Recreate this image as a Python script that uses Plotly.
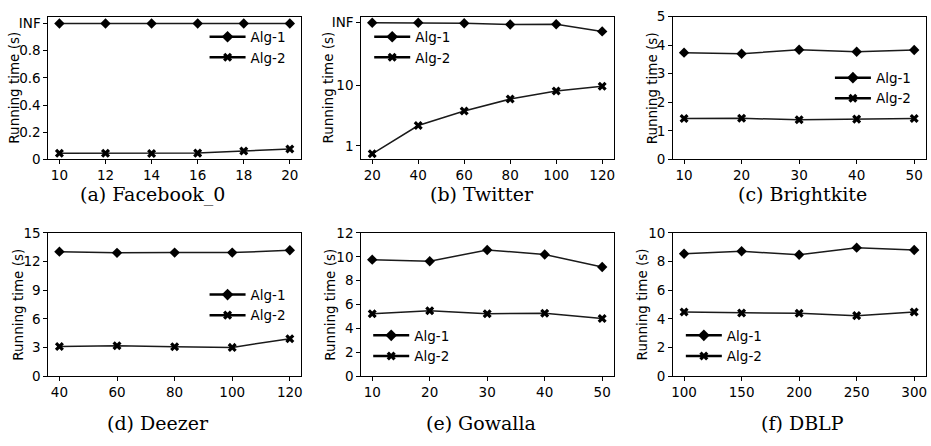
import plotly.graph_objects as go
from plotly.subplots import make_subplots

# ---------------- data ----------------
captions = ["(a) Facebook_0", "(b) Twitter", "(c) Brightkite",
            "(d) Deezer", "(e) Gowalla", "(f) DBLP"]

x_a = [10, 12, 14, 16, 18, 20]
alg1_a = [1.0, 1.0, 1.0, 1.0, 1.0, 1.0]          # INF
alg2_a = [0.045, 0.045, 0.043, 0.046, 0.062, 0.077]

x_b = [20, 40, 60, 80, 100, 120]
alg1_b = [107, 107, 105, 100, 101, 77]            # INF ~ 107
alg2_b = [0.74, 2.16, 3.74, 5.9, 8.0, 9.6]

x_c = [10, 20, 30, 40, 50]
alg1_c = [3.74, 3.70, 3.84, 3.77, 3.83]
alg2_c = [1.43, 1.44, 1.385, 1.41, 1.43]

x_d = [40, 60, 80, 100, 120]
alg1_d = [13.04, 12.91, 12.94, 12.94, 13.18]
alg2_d = [3.10, 3.17, 3.07, 3.00, 3.91]

x_e = [10, 20, 30, 40, 50]
alg1_e = [9.76, 9.63, 10.57, 10.19, 9.14]
alg2_e = [5.23, 5.47, 5.23, 5.26, 4.83]

x_f = [100, 150, 200, 250, 300]
alg1_f = [8.54, 8.72, 8.47, 8.97, 8.81]
alg2_f = [4.47, 4.40, 4.38, 4.22, 4.47]

yticks_a = [0, 0.2, 0.4, 0.6, 0.8, 1.0]
yticklabels_a = ["0", "0.2", "0.4", "0.6", "0.8", "INF"]
yticks_b = [1, 10, 107]
yticklabels_b = ["1", "10", "INF"]

series = [
    (x_a, alg1_a, alg2_a), (x_b, alg1_b, alg2_b), (x_c, alg1_c, alg2_c),
    (x_d, alg1_d, alg2_d), (x_e, alg1_e, alg2_e), (x_f, alg1_f, alg2_f),
]

# ---------------- layout geometry (pixels) ----------------
W, H = 931, 446
cols_px = [(47, 301), (360.5, 614), (673, 926.7)]
rows_px = [(9, 157), (233.3, 381.7)]

xranges = [[9.5, 20.5], [15, 125], [8, 52], [36, 124], [8, 52], [90, 310]]
xdticks = [2, 20, 10, 20, 10, 50]
yranges = [[0, 1.05], [-0.223, 2.129], [0, 5], [0, 15], [0, 12], [0, 10]]
ydticks = [None, None, 1, 3, 2, 2]

# legend placement: (x of text start px, y of first row px)
legend_pos = [(250, 29.3), (415, 29.3), (876.7, 71.7), (250, 296.7), (414, 339), (727.3, 339)]
ytitle_x = [12.7, 327.3, 652.7, 17.3, 330, 643.3]
caption_xy = [(152, 193), (482, 193), (803, 193), (157, 430), (481, 430), (803, 430)]

TICKFONT = dict(family="DejaVu Sans", size=13.5, color="black")
LINE = "#1a1a1a"

fig = make_subplots(rows=2, cols=3)

for i, (xs, y1, y2) in enumerate(series):
    r, c = divmod(i, 3)
    leg = "legend" if i == 0 else f"legend{i+1}"
    fig.add_trace(go.Scatter(x=xs, y=y1, mode="lines+markers", name="Alg-1",
                             line=dict(color=LINE, width=1.5),
                             marker=dict(symbol="diamond", size=8, color="black"),
                             showlegend=False), row=r + 1, col=c + 1)
    fig.add_trace(go.Scatter(x=xs, y=y2, mode="lines+markers", name="Alg-2",
                             line=dict(color=LINE, width=1.5),
                             marker=dict(symbol="x", size=8, color="black", line=dict(width=0)),
                             showlegend=False), row=r + 1, col=c + 1)
    # legend-only entries (thicker, like the reference legend)
    fig.add_trace(go.Scatter(x=[None], y=[None], mode="lines+markers", name="Alg-1",
                             line=dict(color="black", width=2.5),
                             marker=dict(symbol="diamond", size=9, color="black"),
                             legend=leg), row=r + 1, col=c + 1)
    fig.add_trace(go.Scatter(x=[None], y=[None], mode="lines+markers", name="Alg-2",
                             line=dict(color="black", width=2.5),
                             marker=dict(symbol="x", size=8, color="black", line=dict(width=0)),
                             legend=leg), row=r + 1, col=c + 1)

    x0, x1 = cols_px[c]
    t, b = rows_px[r]
    xa = dict(domain=[x0 / W, x1 / W], range=xranges[i], dtick=xdticks[i], tick0=0,
              showgrid=False, zeroline=False, showline=True, linecolor="black", linewidth=1,
              mirror=True, ticks="outside", ticklen=3.5, tickwidth=0.8, tickcolor="black",
              tickfont=TICKFONT)
    ya = dict(domain=[1 - b / H, 1 - t / H], range=yranges[i],
              showgrid=False, zeroline=False, showline=True, linecolor="black", linewidth=1,
              mirror=True, ticks="outside", ticklen=3.5, tickwidth=0.8, tickcolor="black",
              tickfont=TICKFONT)
    if i == 0:
        ya.update(tickmode="array", tickvals=yticks_a, ticktext=yticklabels_a)
    elif i == 1:
        ya.update(type="log", tickmode="array", tickvals=yticks_b, ticktext=yticklabels_b)
    else:
        ya.update(dtick=ydticks[i], tick0=0)
    fig.update_xaxes(xa, row=r + 1, col=c + 1)
    fig.update_yaxes(ya, row=r + 1, col=c + 1)

    # legend
    lx, ly = legend_pos[i]
    fig.update_layout({leg: dict(x=(lx - 46) / W, y=1 - (ly - 15.3) / H, xanchor="left", yanchor="top",
                                 bgcolor="rgba(0,0,0,0)", borderwidth=0, itemwidth=36,
                                 font=dict(family="DejaVu Sans", size=13.5, color="black"),
                                 tracegroupgap=0)})

    # y title
    fig.add_annotation(text="Running time (s)", textangle=-90, showarrow=False,
                       xref="paper", yref="paper", x=ytitle_x[i] / W, y=1 - (t + b) / 2 / H,
                       xanchor="center", yanchor="middle",
                       font=dict(family="DejaVu Sans", size=13.5, color="black"))
    # caption
    cx, cy = caption_xy[i]
    fig.add_annotation(text=captions[i], showarrow=False, xref="paper", yref="paper",
                       x=cx / W, y=1 - cy / H, xanchor="center", yanchor="middle",
                       font=dict(family="DejaVu Serif", size=19, color="black"))

fig.update_layout(width=W, height=H, margin=dict(l=0, r=0, t=0, b=0),
                  paper_bgcolor="white", plot_bgcolor="white")

fig.write_html("out.html", config={"displayModeBar": False},
               post_script="document.body.style.margin='0px';document.body.style.overflow='hidden';")
